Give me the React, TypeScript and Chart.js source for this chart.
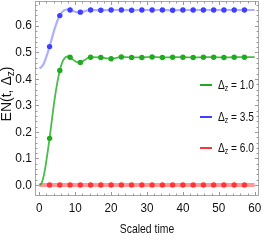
import React, { useEffect, useRef } from "react";
import { Chart, registerables } from "chart.js";

Chart.register(...registerables);

// Scaled time samples of the curves
const curveTime = [0, 0.5, 1, 1.5, 2, 2.86, 3.5, 4.25, 5, 5.71, 6.5, 7.3, 8, 8.57, 9.5, 10.5, 11.43, 12.5, 13.5, 14.29, 17.14, 20, 22.86, 25.71, 28.57, 31.43, 34.29, 37.14, 40, 42.86, 45.71, 48.57, 51.43, 54.29, 57.14, 60];
// times where markers are drawn
const markerTime = [2.86, 5.71, 8.57, 11.43, 14.29, 17.14, 20, 22.86, 25.71, 28.57, 31.43, 34.29, 37.14, 40, 42.86, 45.71, 48.57, 51.43, 54.29, 57.14];

const enDz10 = [0, 0.004, 0.022, 0.052, 0.095, 0.176, 0.245, 0.322, 0.385, 0.432, 0.466, 0.482, 0.485, 0.482, 0.472, 0.463, 0.462, 0.47, 0.479, 0.482, 0.481, 0.476, 0.483, 0.481, 0.481, 0.483, 0.481, 0.482, 0.482, 0.481, 0.482, 0.482, 0.481, 0.482, 0.482, 0.482];
const enDz35 = [0.441, 0.444, 0.452, 0.466, 0.485, 0.522, 0.553, 0.588, 0.618, 0.639, 0.654, 0.661, 0.662, 0.66, 0.656, 0.652, 0.652, 0.655, 0.659, 0.66, 0.659, 0.66, 0.66, 0.659, 0.66, 0.66, 0.66, 0.659, 0.66, 0.66, 0.66, 0.66, 0.66, 0.66, 0.66, 0.66];
const enDz60 = [0, 0, 0, 0, 0, 0, 0, 0, 0, 0, 0, 0, 0, 0, 0, 0, 0, 0, 0, 0, 0, 0, 0, 0, 0, 0, 0, 0, 0, 0, 0, 0, 0, 0, 0, 0];

const seriesDz = ["1.0", "3.5", "6.0"];
const xTickValues = [0, 10, 20, 30, 40, 50, 60];
const yTickValues = [0.0, 0.1, 0.2, 0.3, 0.4, 0.5, 0.6];

const FONT = '"Liberation Sans", Arial, sans-serif';
const TEXT = "#111";

const series = [
  { values: enDz10, line: "rgba(30,170,30,0.8)", mark: "#1faa1f", width: 1.8 },
  { values: enDz35, line: "rgba(95,95,255,0.5)", mark: "#3f3fff", width: 2.2 },
  { values: enDz60, line: "rgba(255,70,70,0.55)", mark: "#ff3535", width: 4 },
];

type Part = { t: string; sub?: boolean };

// draws text horizontally condensed by sx
function drawParts(ctx: CanvasRenderingContext2D, x: number, y: number, parts: Part[], size: number, sx: number, align: "left" | "center" | "right") {
  ctx.save();
  ctx.translate(x, y);
  ctx.scale(sx, 1);
  ctx.textAlign = "left";
  ctx.textBaseline = "middle";
  let w = 0;
  for (const p of parts) {
    ctx.font = `${p.sub ? Math.round(size * 0.7) : size}px ${FONT}`;
    w += ctx.measureText(p.t).width;
  }
  let cx = align === "left" ? 0 : align === "center" ? -w / 2 : -w;
  for (const p of parts) {
    ctx.font = `${p.sub ? Math.round(size * 0.7) : size}px ${FONT}`;
    ctx.fillText(p.t, cx, p.sub ? size * 0.3 : 0);
    cx += ctx.measureText(p.t).width;
  }
  ctx.restore();
}

const framePlugin = {
  id: "frameTicks",
  beforeDatasetsDraw(chart: any) {
    const { ctx, chartArea: a, scales } = chart;
    const xs = scales.x, ys = scales.y;
    ctx.save();
    ctx.strokeStyle = "#a8a8a8";
    ctx.lineWidth = 1;
    ctx.strokeRect(a.left + 0.5, a.top + 0.5, a.right - a.left - 1, a.bottom - a.top - 1);
    ctx.strokeStyle = "#9a9a9a";
    ctx.beginPath();
    for (let i = 0; i <= 30; i++) {
      const v = i * 2;
      const len = i % 5 === 0 ? 4 : 2.5;
      const px = Math.round(xs.getPixelForValue(v)) + 0.5;
      ctx.moveTo(px, a.bottom); ctx.lineTo(px, a.bottom - len);
      ctx.moveTo(px, a.top); ctx.lineTo(px, a.top + len);
    }
    for (let i = 0; i <= 34; i++) {
      const v = i * 0.02;
      const len = i % 5 === 0 ? 4 : 2.5;
      const py = Math.round(ys.getPixelForValue(v)) + 0.5;
      ctx.moveTo(a.left, py); ctx.lineTo(a.left + len, py);
      ctx.moveTo(a.right, py); ctx.lineTo(a.right - len, py);
    }
    ctx.stroke();
    ctx.restore();
  },
  afterDraw(chart: any) {
    const { ctx, chartArea: a, scales } = chart;
    ctx.save();
    ctx.fillStyle = TEXT;
    // tick labels
    xTickValues.forEach((v) => {
      drawParts(ctx, scales.x.getPixelForValue(v), 208, [{ t: String(v) }], 13, 0.9, "center");
    });
    yTickValues.forEach((v) => {
      drawParts(ctx, 32, scales.y.getPixelForValue(v), [{ t: v.toFixed(1) }], 13, 0.92, "right");
    });
    // legend
    const legY = [85, 117, 148];
    series.forEach((s, i) => {
      ctx.strokeStyle = s.mark;
      ctx.lineWidth = 2;
      ctx.beginPath();
      ctx.moveTo(200, legY[i]);
      ctx.lineTo(212, legY[i]);
      ctx.stroke();
      drawParts(ctx, 218, legY[i], [{ t: "Δ" }, { t: "z", sub: true }, { t: " = " + seriesDz[i] }], 13, 0.78, "left");
    });
    // x title
    drawParts(ctx, (a.left + a.right) / 2, 229, [{ t: "Scaled time" }], 13, 0.8, "center");
    // y title
    ctx.translate(7, 94);
    ctx.rotate(-Math.PI / 2);
    drawParts(ctx, 0, 0, [{ t: "EN(t, Δ" }, { t: "z", sub: true }, { t: ")" }], 14, 1, "center");
    ctx.restore();
  },
};

export default function App() {
  const ref = useRef<HTMLCanvasElement>(null);
  useEffect(() => {
    document.body.style.margin = "0";
    const canvas = ref.current!;
    const datasets = series.map((s, i) => ({
      label: "Δz = " + seriesDz[i],
      data: curveTime.map((t, j) => ({ x: t, y: s.values[j] })),
      borderColor: s.line,
      borderWidth: s.width,
      backgroundColor: s.mark,
      pointBackgroundColor: s.mark,
      pointBorderWidth: 0,
      pointRadius: (c: any) => (markerTime.includes(curveTime[c.dataIndex]) ? 2.7 : 0),
      cubicInterpolationMode: "monotone" as const,
      fill: false,
    }));
    const chart = new Chart(canvas, {
      type: "line",
      data: { datasets },
      options: {
        animation: false,
        responsive: false,
        devicePixelRatio: 1,
        layout: { padding: { left: 0, right: 3, top: 1, bottom: 0 } },
        plugins: { legend: { display: false }, tooltip: { enabled: false } },
        scales: {
          x: {
            type: "linear",
            min: -1.2,
            max: 61.2,
            grid: { display: false, drawTicks: false },
            border: { display: false },
            afterBuildTicks: (s: any) => { s.ticks = xTickValues.map((v) => ({ value: v })); },
            afterFit: (s: any) => { s.height = 44; },
            ticks: { display: false },
          },
          y: {
            type: "linear",
            min: -0.0415,
            max: 0.694,
            grid: { display: false, drawTicks: false },
            border: { display: false },
            afterBuildTicks: (s: any) => { s.ticks = yTickValues.map((v) => ({ value: v })); },
            afterFit: (s: any) => { s.width = 35; },
            ticks: { display: false },
          },
        },
      },
      plugins: [framePlugin],
    });
    return () => chart.destroy();
  }, []);
  return (
    <div style={{ width: 262, height: 240, background: "#fff" }}>
      <canvas ref={ref} width={262} height={240} style={{ display: "block" }} />
    </div>
  );
}
